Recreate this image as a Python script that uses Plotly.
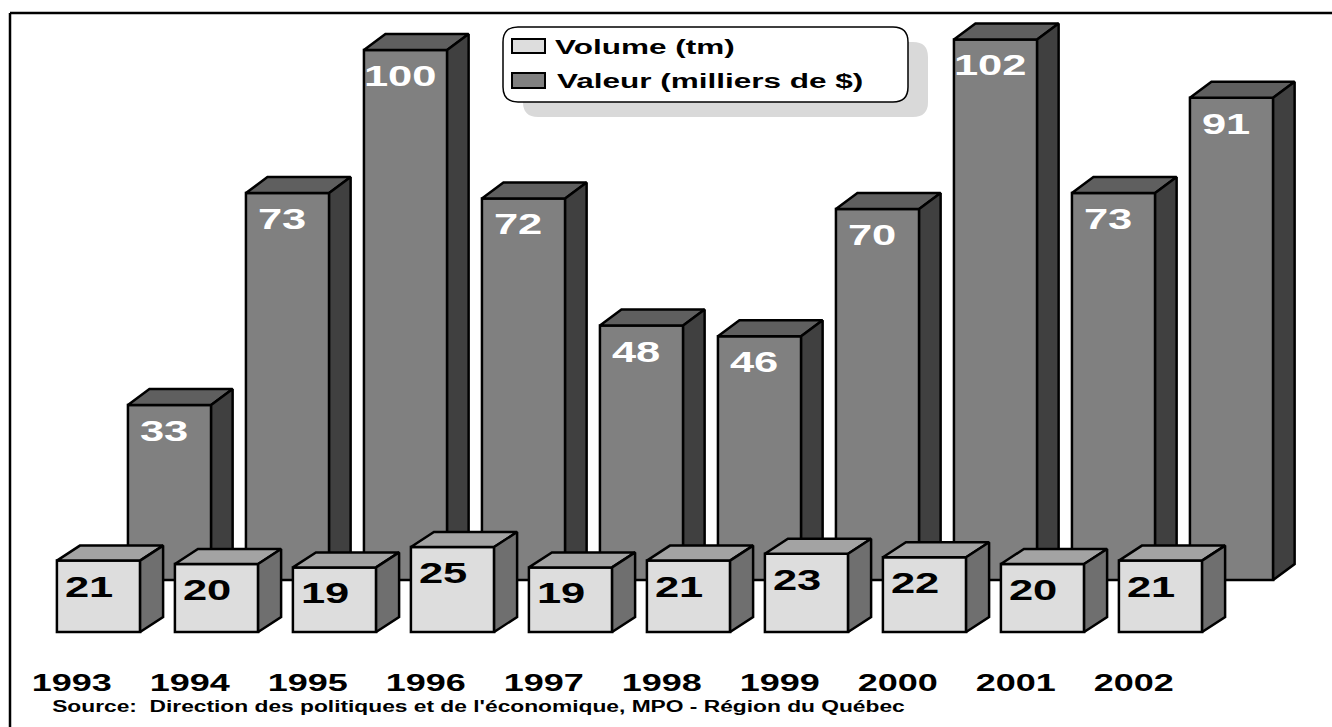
import json
import plotly.graph_objects as go

# ---------------- data ----------------
years = ["1993", "1994", "1995", "1996", "1997", "1998", "1999", "2000", "2001", "2002"]
volume_tm = [21, 20, 19, 25, 19, 21, 23, 22, 20, 21]
valeur_k = [33, 73, 100, 72, 48, 46, 70, 102, 73, 91]
series_names = ["Volume (tm)", "Valeur (milliers de $)"]
source_text = "Source:  Direction des politiques et de l'économique, MPO - Région du Québec"

# ---------------- geometry / style ----------------
W, H = 1332, 727
PX_PER_CAT = 118.0
X0_PX = 98.5          # pixel centre of the first front box
BAR_W = 0.705         # bar width in category units
VAL_OFF = 0.602       # back series shifted right (perspective)
VOL_DX, VOL_DY_PX = 23 / PX_PER_CAT, 15
VAL_DX, VAL_DY_PX = 21.5 / PX_PER_CAT, 16
VOL_ZERO_PX, VOL_PPU = 632, 3.4
VAL_ZERO_PX, VAL_PPU = 580, 5.3

FONT = "Liberation Sans, Arial, sans-serif"
C_VAL_FRONT, C_VAL_TOP, C_VAL_SIDE = "#808080", "#5f5f5f", "#404040"
C_VOL_FRONT, C_VOL_TOP, C_VOL_SIDE = "#dddddd", "#a3a3a3", "#6f6f6f"
LW = 2.5

x_range = [-X0_PX / PX_PER_CAT, (W - X0_PX) / PX_PER_CAT]
y_val_range = [(VAL_ZERO_PX - H) / VAL_PPU, VAL_ZERO_PX / VAL_PPU]
y_vol_range = [(VOL_ZERO_PX - H) / VOL_PPU, VOL_ZERO_PX / VOL_PPU]

idx = list(range(len(years)))
x_vol = [i for i in idx]
x_val = [i + VAL_OFF for i in idx]


def faces(xc, vals, w, dx, dy):
    tx, ty, sx, sy = [], [], [], []
    for c, v in zip(xc, vals):
        xl, xr = c - w / 2, c + w / 2
        tx += [xl, xl + dx, xr + dx, xr, xl, None]
        ty += [v, v + dy, v + dy, v, v, None]
        sx += [xr, xr + dx, xr + dx, xr, xr, None]
        sy += [v, v + dy, dy, 0, v, None]
    return tx, ty, sx, sy


fig = go.Figure()

# back series: Valeur (axis y)
tx, ty, sx, sy = faces(x_val, valeur_k, BAR_W, VAL_DX, VAL_DY_PX / VAL_PPU)
fig.add_trace(go.Bar(x=x_val, y=valeur_k, width=BAR_W, yaxis="y", name=series_names[1],
                     marker=dict(color=C_VAL_FRONT, line=dict(color="black", width=LW)),
                     hoverinfo="skip"))
fig.add_trace(go.Scatter(x=tx, y=ty, yaxis="y", mode="lines", fill="toself",
                         fillcolor=C_VAL_TOP, line=dict(color="black", width=LW),
                         hoverinfo="skip"))
fig.add_trace(go.Scatter(x=sx, y=sy, yaxis="y", mode="lines", fill="toself",
                         fillcolor=C_VAL_SIDE, line=dict(color="black", width=LW),
                         hoverinfo="skip"))

# front series: Volume (axis y2, drawn on top)
tx, ty, sx, sy = faces(x_vol, volume_tm, BAR_W, VOL_DX, VOL_DY_PX / VOL_PPU)
fig.add_trace(go.Bar(x=x_vol, y=volume_tm, width=BAR_W, yaxis="y2", name=series_names[0],
                     marker=dict(color=C_VOL_FRONT, line=dict(color="black", width=LW)),
                     hoverinfo="skip"))
fig.add_trace(go.Scatter(x=tx, y=ty, yaxis="y2", mode="lines", fill="toself",
                         fillcolor=C_VOL_TOP, line=dict(color="black", width=LW),
                         hoverinfo="skip"))
fig.add_trace(go.Scatter(x=sx, y=sy, yaxis="y2", mode="lines", fill="toself",
                         fillcolor=C_VOL_SIDE, line=dict(color="black", width=LW),
                         hoverinfo="skip"))


def px(x):
    return x / W


def py(y):
    return 1 - y / H


annotations = []
stretch = []

def add_ann(stretch_factor, **kw):
    annotations.append(dict(showarrow=False, xanchor="center", yanchor="middle", **kw))
    stretch.append(stretch_factor)

# value labels
for i, v in zip(x_val, valeur_k):
    add_ann(1.5, x=i, y=v, xref="x", yref="y", text=str(v), xshift=-6, yshift=-26,
            font=dict(family=FONT, size=29, color="white", weight="bold"))
for i, v in zip(x_vol, volume_tm):
    add_ann(1.5, x=i, y=v, xref="x", yref="y2", text=str(v), xshift=-10, yshift=-26,
            font=dict(family=FONT, size=29, color="black", weight="bold"))
# category labels
for i, yr in zip(idx, years):
    add_ann(1.5, x=i, y=py(682), xref="x", yref="paper", text=yr, xshift=-27,
            font=dict(family=FONT, size=24, color="black", weight="bold"))
# source
add_ann(1.34, x=px(478.5), y=py(706), xref="paper", yref="paper", text=source_text,
        font=dict(family=FONT, size=17, color="black", weight="bold"))
# legend texts
add_ann(1.5, x=px(645), y=py(46), xref="paper", yref="paper", text=series_names[0],
        font=dict(family=FONT, size=21, color="black", weight="bold"))
add_ann(1.5, x=px(710), y=py(80), xref="paper", yref="paper", text=series_names[1],
        font=dict(family=FONT, size=21, color="black", weight="bold"))


def rrect(x0, y0, x1, y1, r):
    pts = [
        ("M", [(x0 + r, y0)]), ("L", [(x1 - r, y0)]), ("Q", [(x1, y0), (x1, y0 + r)]),
        ("L", [(x1, y1 - r)]), ("Q", [(x1, y1), (x1 - r, y1)]), ("L", [(x0 + r, y1)]),
        ("Q", [(x0, y1), (x0, y1 - r)]), ("L", [(x0, y0 + r)]), ("Q", [(x0, y0), (x0 + r, y0)]),
    ]
    s = ""
    for cmd, ps in pts:
        s += cmd + " " + " ".join(f"{px(a):.5f},{py(b):.5f}" for a, b in ps) + " "
    return s + "Z"


shapes = [
    # outer frame (top and left edges visible)
    dict(type="line", xref="paper", yref="paper", x0=px(10), x1=1.0, y0=py(13), y1=py(13),
         line=dict(color="black", width=2.5)),
    dict(type="line", xref="paper", yref="paper", x0=px(10), x1=px(10), y0=py(13), y1=0,
         line=dict(color="black", width=2.5)),
    # legend shadow + box
    dict(type="path", xref="paper", yref="paper", path=rrect(523, 42, 928, 117, 15),
         fillcolor="#d9d9d9", line=dict(width=0)),
    dict(type="path", xref="paper", yref="paper", path=rrect(503, 27, 908, 102, 15),
         fillcolor="white", line=dict(color="black", width=1.5)),
    # legend swatches
    dict(type="rect", xref="paper", yref="paper", x0=px(512), x1=px(545), y0=py(39), y1=py(53),
         fillcolor=C_VOL_FRONT, line=dict(color="black", width=2)),
    dict(type="rect", xref="paper", yref="paper", x0=px(512), x1=px(545), y0=py(73), y1=py(88),
         fillcolor=C_VAL_FRONT, line=dict(color="black", width=2)),
]

fig.update_layout(
    width=W, height=H, margin=dict(l=0, r=0, t=0, b=0),
    paper_bgcolor="white", plot_bgcolor="white",
    showlegend=False, barmode="overlay",
    xaxis=dict(range=x_range, visible=False, fixedrange=True),
    yaxis=dict(range=y_val_range, visible=False, fixedrange=True),
    yaxis2=dict(range=y_vol_range, visible=False, overlaying="y", fixedrange=True),
    annotations=annotations, shapes=shapes,
)

post = """
document.body.style.margin = '0';
document.body.style.overflow = 'hidden';
var st = %s;
document.querySelectorAll('g.annotation').forEach(function(g){
  var i = +g.getAttribute('data-index');
  var t = g.querySelector('text.annotation-text');
  if (t && st[i]) {
    t.style.transformBox = 'fill-box';
    t.style.transformOrigin = 'center';
    t.style.transform = 'scaleX(' + st[i] + ')';
  }
});
""" % json.dumps(stretch)

fig.write_html("out.html", config={"displayModeBar": False}, post_script=post)
